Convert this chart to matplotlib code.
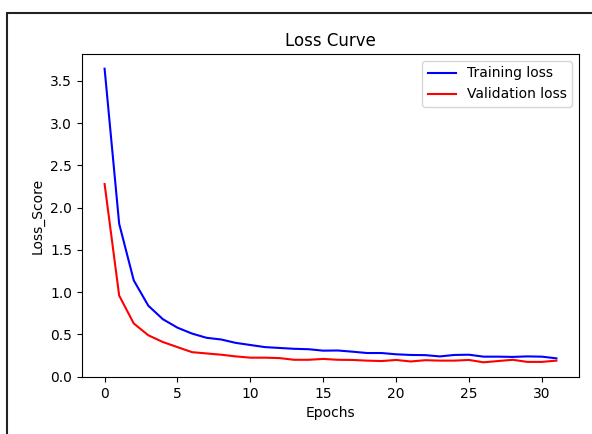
import matplotlib
matplotlib.use("Agg")
import matplotlib.pyplot as plt
from matplotlib.patches import Rectangle
import numpy as np

epochs = np.arange(32)

training_loss = [3.645, 1.81, 1.14, 0.84, 0.68, 0.58, 0.51, 0.46, 0.44, 0.40,
                 0.375, 0.35, 0.34, 0.33, 0.325, 0.308, 0.31, 0.296, 0.28, 0.28,
                 0.265, 0.257, 0.255, 0.24, 0.257, 0.26, 0.237, 0.237, 0.234, 0.24,
                 0.237, 0.217]

validation_loss = [2.28, 0.96, 0.63, 0.49, 0.41, 0.35, 0.29, 0.275, 0.26, 0.24,
                   0.225, 0.225, 0.22, 0.20, 0.20, 0.21, 0.20, 0.198, 0.19, 0.185,
                   0.198, 0.18, 0.195, 0.19, 0.19, 0.198, 0.17, 0.185, 0.20, 0.175,
                   0.175, 0.19]

fig = plt.figure(figsize=(5.92, 4.34), dpi=100)
ax = fig.add_axes([82/592, 1 - 377/434, (579 - 82)/592, (377 - 54)/434])

ax.plot(epochs, training_loss, 'b', label='Training loss')
ax.plot(epochs, validation_loss, 'r', label='Validation loss')
ax.set_title('Loss Curve')
ax.set_xlabel('Epochs')
ax.set_ylabel('Loss_Score')
ax.legend(loc='upper right')

# dark frame around the screenshot (only top and left visible)
frame = Rectangle((6.5/592, -0.5), 2, 1.5 - 12.5/434, transform=fig.transFigure,
                  fill=False, edgecolor='#222222', linewidth=1.5, clip_on=False)
fig.patches.append(frame)

fig.savefig('out.png', dpi=100)
